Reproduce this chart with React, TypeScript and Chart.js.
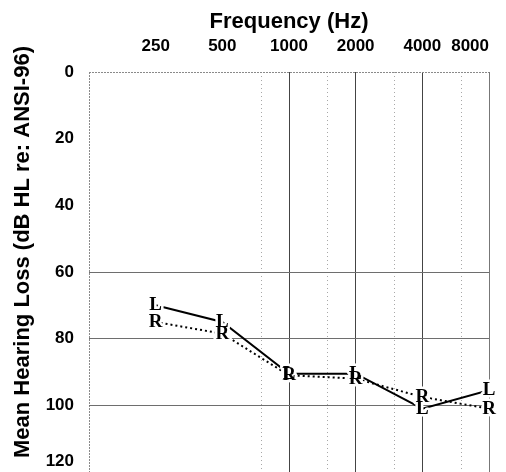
import { useEffect, useRef } from 'react';
import { Chart, registerables } from 'chart.js';

Chart.register(...registerables);

// ---- data ----
const frequencies = [250, 500, 1000, 2000, 4000, 8000];
const leftEar = [70, 75, 90.5, 90.5, 101, 95.5];
const rightEar = [75, 78.5, 91, 92, 97.5, 101];

// ---- ticks / grid ----
const xGridValues = [125, 250, 500, 750, 1000, 1500, 2000, 3000, 4000, 6000, 8000];
const xLabelValues = [250, 500, 1000, 2000, 4000, 8000];
const solidX = [1000, 2000, 4000];
const dottedX = [750, 1500, 3000, 6000];
const yTicks = [0, 20, 40, 60, 80, 100, 120];
const solidY = [60, 80, 100, 120];

const xTitle = 'Frequency (Hz)';
const yTitle = 'Mean Hearing Loss (dB HL re: ANSI-96)';

const SANS = '"Liberation Sans", Arial, Helvetica, sans-serif';
const SERIF = '"Liberation Serif", "Times New Roman", serif';

const letterPlugin = {
  id: 'earLetters',
  afterDatasetsDraw(chart: any) {
    const ctx = chart.ctx;
    ctx.save();
    ctx.font = `bold 19px ${SERIF}`;
    ctx.textAlign = 'center';
    ctx.textBaseline = 'middle';
    ctx.lineJoin = 'round';
    ctx.lineWidth = 5;
    ctx.strokeStyle = '#ffffff';
    chart.data.datasets.forEach((ds: any, i: number) => {
      chart.getDatasetMeta(i).data.forEach((pt: any) => {
        ctx.strokeText(ds.label, pt.x, pt.y);
      });
    });
    ctx.fillStyle = '#000000';
    chart.data.datasets.forEach((ds: any, i: number) => {
      chart.getDatasetMeta(i).data.forEach((pt: any) => {
        ctx.fillText(ds.label, pt.x, pt.y);
      });
    });
    ctx.restore();
  },
};

const yTitlePlugin = {
  id: 'yTitle',
  afterDraw(chart: any) {
    const ctx = chart.ctx;
    const area = chart.chartArea;
    ctx.save();
    ctx.font = `bold 22px ${SANS}`;
    ctx.fillStyle = '#000000';
    ctx.textAlign = 'center';
    ctx.textBaseline = 'middle';
    ctx.translate(15, (area.top + area.bottom) / 2 - 20);
    ctx.rotate(-Math.PI / 2);
    ctx.fillText(yTitle, 0, 0);
    ctx.restore();
  },
};

export default function App() {
  const ref = useRef<HTMLCanvasElement | null>(null);

  useEffect(() => {
    document.body.style.overflow = 'hidden';
    const canvas = ref.current;
    if (!canvas) return;
    const chart = new Chart(canvas, {
      type: 'line',
      data: {
        datasets: [
          {
            label: 'L',
            data: frequencies.map((f, i) => ({ x: f, y: leftEar[i] })),
            borderColor: '#000000',
            borderWidth: 2,
            pointRadius: 0,
            fill: false,
            tension: 0,
          },
          {
            label: 'R',
            data: frequencies.map((f, i) => ({ x: f, y: rightEar[i] })),
            borderColor: '#000000',
            borderWidth: 2,
            borderDash: [2, 3],
            pointRadius: 0,
            fill: false,
            tension: 0,
          },
        ],
      },
      options: {
        animation: false,
        responsive: false,
        devicePixelRatio: 1,
        layout: { padding: { left: 0, right: 9, top: 0, bottom: 0 } },
        plugins: {
          legend: { display: false },
          tooltip: { enabled: false },
        },
        scales: {
          x: {
            type: 'logarithmic',
            position: 'top',
            min: 125,
            max: 8000,
            afterBuildTicks: (s: any) => {
              s.ticks = xGridValues.map((v) => ({ value: v }));
            },
            afterFit: (s: any) => {
              s.height = 64;
              s.paddingLeft = 0;
              s.paddingRight = 0;
            },
            ticks: {
              autoSkip: false,
              maxRotation: 0,
              minRotation: 0,
              align: 'inner',
              padding: 15,
              color: '#000000',
              font: { family: SANS, size: 17, weight: 'bold' },
              callback: (v: any) => (xLabelValues.includes(Number(v)) ? String(v) : ''),
            },
            grid: {
              drawTicks: false,
              lineWidth: 1,
              color: (c: any) => {
                const v = c.tick ? c.tick.value : 0;
                if (v === 125) return '#8a8a8a';
                if (solidX.includes(v)) return '#444444';
                if (v === 8000) return '#777777';
                if (dottedX.includes(v)) return '#a8a8a8';
                return 'rgba(0,0,0,0)';
              },
            },
            border: {
              display: false,
              dash: (c: any) => {
                const v = c.tick ? c.tick.value : 0;
                if (v === 125) return [2, 1];
                if (dottedX.includes(v)) return [1, 3];
                return [];
              },
            },
            title: {
              display: true,
              text: xTitle,
              color: '#000000',
              font: { family: SANS, size: 22, weight: 'bold' },
              padding: { top: 1, bottom: 0 },
            },
          } as any,
          y: {
            type: 'linear',
            reverse: true,
            min: 0,
            max: 120,
            afterBuildTicks: (s: any) => {
              s.ticks = yTicks.map((v) => ({ value: v }));
            },
            afterFit: (s: any) => {
              s.width = 81;
              s.paddingTop = 0;
              s.paddingBottom = 0;
            },
            ticks: {
              padding: 15,
              color: '#000000',
              font: { family: SANS, size: 17, weight: 'bold' },
              callback: (v: any) => (Number(v) === 120 ? ['120', ''] : String(v)),
            },
            grid: {
              drawTicks: false,
              lineWidth: 1,
              color: (c: any) => {
                const v = c.tick ? c.tick.value : -1;
                if (v === 0) return '#8a8a8a';
                if (solidY.includes(v)) return '#6e6e6e';
                return 'rgba(0,0,0,0)';
              },
            },
            border: {
              display: false,
              dash: (c: any) => {
                const v = c.tick ? c.tick.value : -1;
                if (v === 0) return [2, 1];
                return [];
              },
            },
          } as any,
        },
      },
      plugins: [letterPlugin, yTitlePlugin],
    });
    return () => chart.destroy();
  }, []);

  return (
    <canvas
      ref={ref}
      width={490}
      height={464}
      style={{ display: 'block', width: 490, height: 464 }}
    />
  );
}
